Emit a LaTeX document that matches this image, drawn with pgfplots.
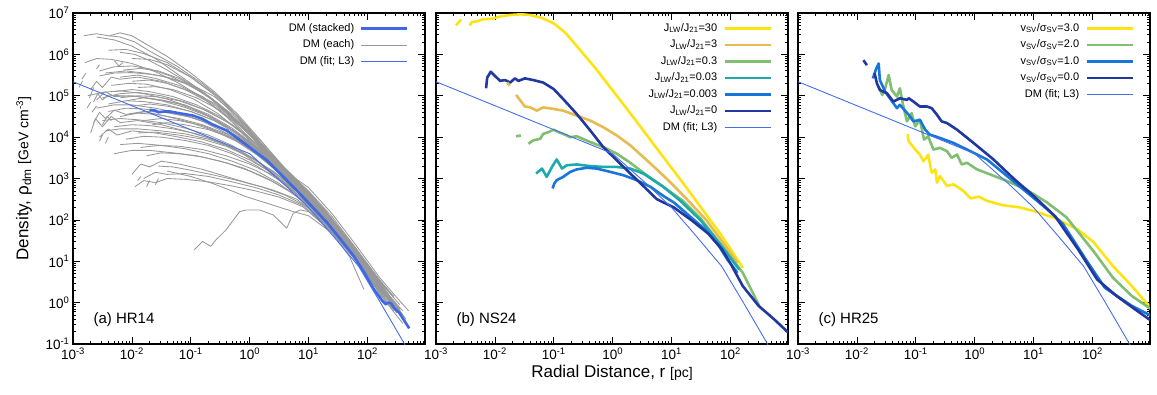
\documentclass[border=0pt]{standalone}
\usepackage{fontspec}
\setmainfont{Liberation Sans}
\usepackage{pgfplots}
\pgfplotsset{compat=1.18}
\definecolor{stk}{RGB}{62,104,228}
\definecolor{fitc}{RGB}{70,110,235}
\definecolor{grayc}{RGB}{152,152,152}
\definecolor{yel}{RGB}{252,228,20}
\definecolor{ora}{RGB}{230,188,80}
\definecolor{grn}{RGB}{128,190,112}
\definecolor{tea}{RGB}{30,170,172}
\definecolor{blu}{RGB}{24,118,218}
\definecolor{nav}{RGB}{32,56,160}
\tikzset{gr/.style={grayc, line width=0.85pt, line join=round}}
\pgfplotsset{table/L/.style={x expr=10^(\thisrowno{0}), y expr=10^(\thisrowno{1}), row sep=\\}}
\begin{document}
\begin{tikzpicture}
\useasboundingbox (0,0) rectangle (1157pt,394pt);
% ================= Panel (a) =================
\begin{axis}[at={(73pt,50pt)}, anchor=south west,
  xmode=log, ymode=log, log basis x=10, log basis y=10,
  xmin=1e-3, xmax=950, ymin=1e-1, ymax=1e7,
  width=352pt, height=331pt, scale only axis,
  xtick={1e-3,1e-2,1e-1,1,10,100},
  ytick={1e-1,1,10,100,1e3,1e4,1e5,1e6,1e7},
  minor xtick={2e-3,3e-3,4e-3,5e-3,6e-3,7e-3,8e-3,9e-3,2e-2,3e-2,4e-2,5e-2,6e-2,7e-2,8e-2,9e-2,0.2,0.3,0.4,0.5,0.6,0.7,0.8,0.9,2,3,4,5,6,7,8,9,20,30,40,50,60,70,80,90,200,300,400,500,600,700,800,900},
  minor ytick={0.2,0.3,0.4,0.5,0.6,0.7,0.8,0.9,2,3,4,5,6,7,8,9,20,30,40,50,60,70,80,90,200,300,400,500,600,700,800,900,2e3,3e3,4e3,5e3,6e3,7e3,8e3,9e3,2e4,3e4,4e4,5e4,6e4,7e4,8e4,9e4,2e5,3e5,4e5,5e5,6e5,7e5,8e5,9e5,2e6,3e6,4e6,5e6,6e6,7e6,8e6,9e6},
  tick align=inside, major tick length=7pt, minor tick length=3.5pt,
  tick style={black, line width=0.7pt},
  axis line style={line width=1.5pt},
  xticklabel={10\textsuperscript{\pgfmathprintnumber[assume math mode=true]{\tick}}},
  yticklabel={10\textsuperscript{\pgfmathprintnumber[assume math mode=true]{\tick}}},
  ticklabel style={font=\fontsize{13.5}{15}\selectfont},
  legend style={at={(1,1)}, anchor=north east, xshift=-16pt, yshift=-8pt, draw=none, fill=none, inner sep=0pt,
   font=\fontsize{11}{12}\selectfont, row sep=2pt, column sep=4pt,
   nodes={inner sep=2pt, text height=8pt, text depth=2.5pt}},
  legend cell align=right, legend plot pos=right,
  legend image code/.code={\draw[#1] (0pt,0pt) -- (46pt,0pt);}]
\addlegendimage{stk, line width=2.6pt}\addlegendentry{DM (stacked)}
\addlegendimage{grayc, line width=0.85pt}\addlegendentry{DM (each)}
\addlegendimage{color=fitc, line width=0.9pt}\addlegendentry{DM (fit; L3)}
% gray individual profiles
\addplot[gr, forget plot] table[L]{-2.82 6.45\\ -2.6 6.5\\ -2.4 6.45\\ -2.2 6.42\\ -1.95 6.3\\ -1.7 6.08\\ -1.24 5.72\\ -0.79 5.28\\ -0.45 4.88\\ -0.05 4.24\\ 0.4 3.52\\ 0.8 2.98\\ 1.0 2.78\\ 1.4 2.15\\ 1.8 1.4\\ 2.2 0.62\\ 2.5 0.12\\ 2.7 -0.2\\};
\addplot[gr, forget plot] table[L]{-2.6 6.42\\ -2.3 6.35\\ -2.0 6.2\\ -1.6 5.9\\ -1.2 5.5\\ -0.8 5.1\\ -0.4 4.6\\ 0.0 4.05\\ 0.4 3.45\\ 0.8 2.92\\ 1.0 2.66\\ 1.4 2.02\\ 1.8 1.25\\ 2.2 0.45\\ 2.6 -0.2\\};
\addplot[gr, forget plot] table[L]{-2.38 6.45\\ -2.2 6.52\\ -2.0 6.45\\ -1.7 6.2\\ -1.4 5.95\\ -1.0 5.55\\ -0.6 5.1\\ -0.2 4.55\\ 0.2 3.9\\ 0.6 3.22\\ 1.0 2.7\\ 1.4 2.08\\ 1.8 1.32\\ 2.2 0.52\\ 2.55 -0.05\\};
\addplot[gr, forget plot] table[L]{-2.4 6.1\\ -2.1 6.12\\ -1.8 6.02\\ -1.4 5.8\\ -1.0 5.45\\ -0.6 5.02\\ -0.2 4.45\\ 0.3 3.65\\ 0.8 2.9\\ 1.0 2.62\\ 1.4 1.98\\ 1.8 1.2\\ 2.2 0.4\\ 2.5 -0.1\\};
\addplot[gr, forget plot] table[L]{-2.0 5.9\\ -1.7 5.88\\ -1.4 5.75\\ -1.0 5.45\\ -0.6 5.05\\ -0.2 4.5\\ 0.2 3.85\\ 0.6 3.2\\ 1.0 2.6\\ 1.4 1.95\\ 1.8 1.15\\ 2.2 0.32\\ 2.6 -0.35\\};
\addplot[gr, forget plot] table[L]{-2.55 5.48\\ -2.3 5.55\\ -2.0 5.56\\ -1.7 5.52\\ -1.4 5.45\\ -1.0 5.28\\ -0.6 4.98\\ -0.2 4.5\\ 0.2 3.9\\ 0.6 3.25\\ 1.0 2.68\\ 1.4 2.02\\ 1.8 1.22\\ 2.2 0.42\\ 2.55 -0.15\\};
\addplot[gr, forget plot] table[L]{-2.45 5.55\\ -2.1 5.6\\ -1.8 5.55\\ -1.5 5.48\\ -1.1 5.3\\ -0.7 5.0\\ -0.3 4.55\\ 0.1 3.98\\ 0.5 3.35\\ 0.9 2.8\\ 1.3 2.2\\ 1.8 1.32\\ 2.2 0.55\\ 2.45 0.15\\};
\addplot[gr, forget plot] table[L]{-2.2 5.45\\ -1.9 5.5\\ -1.6 5.42\\ -1.2 5.25\\ -0.8 4.98\\ -0.4 4.58\\ 0.0 4.05\\ 0.4 3.45\\ 0.8 2.88\\ 1.2 2.25\\ 1.7 1.4\\ 2.1 0.62\\ 2.4 0.05\\};
\addplot[gr, forget plot] table[L]{-2.0 5.35\\ -1.7 5.38\\ -1.4 5.3\\ -1.0 5.1\\ -0.6 4.82\\ -0.2 4.38\\ 0.2 3.8\\ 0.6 3.2\\ 1.0 2.55\\ 1.4 1.88\\ 1.8 1.08\\ 2.2 0.22\\ 2.6 -0.5\\};
\addplot[gr, forget plot] table[L]{-2.7 5.15\\ -2.6 5.35\\ -2.5 5.2\\ -2.35 5.45\\ -2.2 5.4\\ -1.9 5.45\\ -1.5 5.35\\ -1.1 5.15\\ -0.7 4.85\\ -0.3 4.4\\ 0.1 3.85\\ 0.5 3.25\\ 0.9 2.7\\ 1.4 1.95\\ 1.9 1.0\\ 2.3 0.15\\};
\addplot[gr, forget plot] table[L]{-2.15 5.62\\ -1.85 5.66\\ -1.55 5.6\\ -1.2 5.42\\ -0.8 5.1\\ -0.4 4.65\\ 0.0 4.1\\ 0.4 3.5\\ 0.8 2.92\\ 1.2 2.32\\ 1.7 1.5\\ 2.1 0.75\\ 2.45 0.12\\};
\addplot[gr, forget plot] table[L]{-2.5 4.95\\ -2.2 5.05\\ -1.9 5.08\\ -1.5 5.0\\ -1.1 4.85\\ -0.7 4.62\\ -0.3 4.3\\ 0.1 3.85\\ 0.5 3.3\\ 0.9 2.72\\ 1.3 2.08\\ 1.8 1.18\\ 2.2 0.38\\ 2.5 -0.15\\};
\addplot[gr, forget plot] table[L]{-2.3 5.1\\ -2.0 5.15\\ -1.7 5.1\\ -1.3 4.98\\ -0.9 4.78\\ -0.5 4.5\\ -0.1 4.1\\ 0.3 3.6\\ 0.7 3.05\\ 1.1 2.45\\ 1.5 1.8\\ 2.0 0.85\\ 2.35 0.15\\};
\addplot[gr, forget plot] table[L]{-2.1 4.88\\ -1.8 4.95\\ -1.5 4.9\\ -1.1 4.78\\ -0.7 4.55\\ -0.3 4.22\\ 0.1 3.78\\ 0.5 3.25\\ 0.9 2.62\\ 1.3 1.98\\ 1.8 1.1\\ 2.2 0.25\\ 2.45 -0.2\\};
\addplot[gr, forget plot] table[L]{-2.6 4.9\\ -2.45 5.1\\ -2.3 4.98\\ -2.0 5.0\\ -1.6 4.92\\ -1.2 4.8\\ -0.8 4.58\\ -0.4 4.28\\ 0.0 3.88\\ 0.4 3.38\\ 0.8 2.85\\ 1.2 2.25\\ 1.7 1.42\\ 2.1 0.62\\ 2.4 0.1\\};
\addplot[gr, forget plot] table[L]{-1.9 5.2\\ -1.6 5.22\\ -1.3 5.15\\ -0.9 4.95\\ -0.5 4.65\\ -0.1 4.2\\ 0.3 3.68\\ 0.7 3.1\\ 1.1 2.48\\ 1.6 1.65\\ 2.0 0.9\\ 2.3 0.35\\};
\addplot[gr, forget plot] table[L]{-2.4 4.8\\ -2.1 4.88\\ -1.8 4.86\\ -1.4 4.78\\ -1.0 4.62\\ -0.6 4.4\\ -0.2 4.05\\ 0.2 3.6\\ 0.6 3.08\\ 1.0 2.5\\ 1.5 1.72\\ 2.0 0.82\\ 2.35 0.1\\};
\addplot[gr, forget plot] table[L]{-2.4 4.62\\ -2.1 4.7\\ -1.8 4.68\\ -1.4 4.6\\ -1.0 4.48\\ -0.6 4.3\\ -0.2 4.02\\ 0.2 3.62\\ 0.6 3.12\\ 1.0 2.58\\ 1.4 1.95\\ 1.9 1.02\\ 2.3 0.2\\ 2.55 -0.3\\};
\addplot[gr, forget plot] table[L]{-2.2 4.5\\ -1.9 4.58\\ -1.6 4.55\\ -1.2 4.45\\ -0.8 4.3\\ -0.4 4.08\\ 0.0 3.75\\ 0.4 3.3\\ 0.8 2.78\\ 1.2 2.2\\ 1.7 1.38\\ 2.1 0.6\\ 2.4 0.05\\};
\addplot[gr, forget plot] table[L]{-2.0 4.75\\ -1.7 4.8\\ -1.4 4.75\\ -1.0 4.62\\ -0.6 4.4\\ -0.2 4.1\\ 0.2 3.68\\ 0.6 3.15\\ 1.0 2.6\\ 1.5 1.8\\ 2.0 0.9\\ 2.4 0.12\\ 2.65 -0.4\\};
\addplot[gr, forget plot] table[L]{-2.65 4.35\\ -2.55 4.6\\ -2.45 4.45\\ -2.3 4.65\\ -2.1 4.55\\ -1.8 4.62\\ -1.4 4.5\\ -1.0 4.35\\ -0.6 4.15\\ -0.2 3.88\\ 0.2 3.5\\ 0.6 3.02\\ 1.0 2.48\\ 1.5 1.72\\ 2.0 0.82\\ 2.35 0.1\\};
\addplot[gr, forget plot] table[L]{-1.8 4.4\\ -1.5 4.45\\ -1.2 4.4\\ -0.8 4.28\\ -0.4 4.05\\ 0.0 3.72\\ 0.4 3.28\\ 0.8 2.75\\ 1.2 2.15\\ 1.7 1.32\\ 2.1 0.55\\};
\addplot[gr, forget plot] table[L]{-2.5 4.4\\ -2.2 4.45\\ -1.9 4.42\\ -1.5 4.35\\ -1.1 4.22\\ -0.7 4.05\\ -0.3 3.8\\ 0.1 3.45\\ 0.5 3.0\\ 0.9 2.5\\ 1.3 1.9\\ 1.8 1.05\\ 2.2 0.28\\};
\addplot[gr, forget plot] table[L]{-2.55 4.0\\ -2.4 4.2\\ -2.25 4.05\\ -2.0 4.15\\ -1.6 4.1\\ -1.2 4.0\\ -0.8 3.88\\ -0.4 3.7\\ 0.0 3.45\\ 0.4 3.12\\ 0.8 2.68\\ 1.2 2.12\\ 1.7 1.32\\ 2.1 0.6\\ 2.4 0.02\\};
\addplot[gr, forget plot] table[L]{-2.3 4.25\\ -2.0 4.3\\ -1.7 4.28\\ -1.3 4.2\\ -0.9 4.08\\ -0.5 3.88\\ -0.1 3.58\\ 0.3 3.2\\ 0.7 2.76\\ 1.1 2.25\\ 1.6 1.5\\ 2.0 0.78\\ 2.3 0.25\\};
\addplot[gr, forget plot] table[L]{-2.1 3.95\\ -1.8 4.02\\ -1.5 4.0\\ -1.1 3.92\\ -0.7 3.8\\ -0.3 3.6\\ 0.1 3.32\\ 0.5 2.96\\ 0.9 2.5\\ 1.3 1.92\\ 1.8 1.08\\ 2.2 0.32\\};
\addplot[gr, forget plot] table[L]{-2.7 4.1\\ -2.62 4.45\\ -2.5 4.25\\ -2.35 4.5\\ -2.2 4.35\\ -1.9 4.4\\ -1.5 4.3\\ -1.1 4.15\\ -0.7 3.98\\ -0.3 3.75\\ 0.1 3.45\\ 0.5 3.06\\ 0.9 2.6\\ 1.3 2.0\\ 1.8 1.2\\ 2.2 0.42\\ 2.5 -0.12\\};
\addplot[gr, forget plot] table[L]{-1.9 4.1\\ -1.6 4.12\\ -1.2 4.05\\ -0.8 3.95\\ -0.4 3.78\\ 0.0 3.52\\ 0.4 3.18\\ 0.8 2.72\\ 1.2 2.18\\ 1.7 1.38\\ 2.1 0.68\\ 2.45 0.0\\};
\addplot[gr, forget plot] table[L]{-2.2 3.82\\ -1.9 3.85\\ -1.5 3.8\\ -1.1 3.72\\ -0.7 3.6\\ -0.3 3.42\\ 0.1 3.2\\ 0.5 2.88\\ 0.9 2.45\\ 1.3 1.88\\ 1.8 1.05\\ 2.15 0.4\\};
\addplot[gr, forget plot] table[L]{-2.0 3.1\\ -1.85 3.35\\ -1.7 3.28\\ -1.5 3.42\\ -1.2 3.35\\ -0.8 3.22\\ -0.4 3.05\\ 0.0 2.88\\ 0.4 2.72\\ 0.8 2.5\\ 1.2 2.05\\ 1.7 1.3\\ 2.1 0.6\\ 2.4 0.05\\};
\addplot[gr, forget plot] table[L]{-1.8 3.0\\ -1.6 3.15\\ -1.4 3.1\\ -1.1 3.12\\ -0.7 3.05\\ -0.3 2.92\\ 0.1 2.78\\ 0.5 2.6\\ 0.9 2.35\\ 1.3 1.88\\ 1.8 1.08\\ 2.2 0.35\\};
\addplot[gr, forget plot] table[L]{-1.95 2.8\\ -1.8 2.95\\ -1.6 2.9\\ -1.4 3.0\\ -1.1 2.98\\ -0.7 2.92\\ -0.3 2.82\\ 0.1 2.7\\ 0.5 2.55\\ 0.9 2.32\\ 1.3 1.85\\ 1.8 1.02\\ 2.2 0.28\\};
\addplot[gr, forget plot] table[L]{-1.55 3.3\\ -1.3 3.28\\ -1.0 3.2\\ -0.6 3.08\\ -0.2 2.95\\ 0.2 2.8\\ 0.6 2.6\\ 1.0 2.3\\ 1.4 1.75\\ 1.9 0.92\\ 2.3 0.15\\};
\addplot[gr, forget plot] table[L]{-1.4 3.18\\ -1.0 3.05\\ -0.63 2.88\\ -0.3 2.7\\ -0.06 2.56\\ 0.3 2.4\\ 0.74 2.2\\ 1.0 2.1\\ 1.4 1.68\\ 1.9 0.9\\ 2.2 0.38\\};
\addplot[gr, forget plot] table[L]{-0.94 1.28\\ -0.8 1.48\\ -0.66 1.36\\ -0.57 1.52\\ -0.4 1.76\\ -0.17 2.2\\ -0.06 2.24\\ 0.17 2.24\\ 0.4 2.12\\ 0.63 1.8\\ 0.74 2.16\\ 0.86 2.24\\ 1.0 2.2\\ 1.4 1.7\\ 1.7 1.1\\ 1.94 0.32\\};
\addplot[gr, forget plot] table[L]{-2.75 5.0\\ -2.5 5.08\\ -2.2 5.12\\ -1.8 5.05\\ -1.4 4.92\\ -1.0 4.72\\ -0.6 4.45\\ -0.2 4.08\\ 0.2 3.6\\ 0.6 3.05\\ 1.0 2.52\\ 1.4 1.88\\ 1.8 1.1\\ 2.2 0.28\\ 2.5 -0.25\\};
\addplot[gr, forget plot] table[L]{-2.6 4.7\\ -2.3 4.78\\ -2.0 4.78\\ -1.6 4.7\\ -1.2 4.58\\ -0.8 4.38\\ -0.4 4.1\\ 0.0 3.72\\ 0.4 3.25\\ 0.8 2.75\\ 1.2 2.15\\ 1.7 1.32\\ 2.1 0.55\\ 2.4 0.0\\};
\addplot[gr, forget plot] table[L]{-2.45 4.15\\ -2.2 4.2\\ -1.9 4.2\\ -1.5 4.15\\ -1.1 4.08\\ -0.7 3.95\\ -0.3 3.75\\ 0.1 3.45\\ 0.5 3.05\\ 0.9 2.58\\ 1.3 1.98\\ 1.8 1.15\\ 2.2 0.35\\ 2.5 -0.2\\};
\addplot[gr, forget plot] table[L]{-2.3 3.6\\ -2.0 3.68\\ -1.7 3.68\\ -1.3 3.62\\ -0.9 3.55\\ -0.5 3.42\\ -0.1 3.25\\ 0.3 3.0\\ 0.7 2.68\\ 1.1 2.25\\ 1.5 1.68\\ 2.0 0.85\\ 2.3 0.3\\};
\addplot[gr, forget plot] table[L]{-2.2 4.95\\ -1.9 5.0\\ -1.6 4.98\\ -1.2 4.88\\ -0.8 4.68\\ -0.4 4.38\\ 0.0 3.98\\ 0.4 3.45\\ 0.8 2.9\\ 1.2 2.3\\ 1.6 1.62\\ 2.0 0.88\\ 2.35 0.2\\};
\addplot[gr, forget plot] table[L]{-2.05 4.55\\ -1.75 4.62\\ -1.45 4.6\\ -1.05 4.5\\ -0.65 4.32\\ -0.25 4.05\\ 0.15 3.65\\ 0.55 3.15\\ 0.95 2.62\\ 1.35 1.98\\ 1.8 1.18\\ 2.2 0.4\\ 2.55 -0.2\\};
\addplot[gr, forget plot] table[L]{-2.8 5.8\\ -2.6 5.9\\ -2.35 5.88\\ -2.0 5.78\\ -1.6 5.58\\ -1.2 5.3\\ -0.8 4.95\\ -0.4 4.5\\ 0.0 3.95\\ 0.4 3.38\\ 0.8 2.85\\ 1.2 2.25\\ 1.6 1.6\\ 2.0 0.88\\ 2.4 0.1\\ 2.65 -0.4\\};
\addplot[gr, forget plot] table[L]{-2.35 5.25\\ -2.05 5.3\\ -1.75 5.28\\ -1.35 5.15\\ -0.95 4.92\\ -0.55 4.58\\ -0.15 4.12\\ 0.25 3.58\\ 0.65 3.02\\ 1.05 2.48\\ 1.45 1.85\\ 1.9 1.0\\ 2.3 0.2\\};
\addplot[gr, forget plot] table[L]{-1.85 3.75\\ -1.55 3.8\\ -1.2 3.78\\ -0.8 3.7\\ -0.4 3.55\\ 0.0 3.35\\ 0.4 3.08\\ 0.8 2.7\\ 1.2 2.2\\ 1.6 1.55\\ 2.0 0.82\\ 2.3 0.25\\};
\addplot[gr, forget plot] table[L]{-2.65 4.85\\ -2.58 5.05\\ -2.5 4.9\\ -2.4 5.02\\ -2.2 5.0\\ -1.9 4.98\\ -1.5 4.88\\ -1.1 4.72\\ -0.7 4.5\\ -0.3 4.18\\ 0.1 3.75\\ 0.5 3.22\\ 0.9 2.68\\ 1.3 2.05\\ 1.8 1.2\\ 2.2 0.4\\ 2.5 -0.1\\};
\addplot[gr, forget plot] table[L]{-1.65 4.3\\ -1.4 4.35\\ -1.1 4.3\\ -0.7 4.18\\ -0.3 3.98\\ 0.1 3.65\\ 0.5 3.18\\ 0.9 2.68\\ 1.3 2.08\\ 1.75 1.28\\ 2.15 0.5\\};
\addplot[gr, forget plot] table[L]{-2.2 6.05\\ -1.95 6.0\\ -1.7 5.85\\ -1.4 5.62\\ -1.0 5.28\\ -0.6 4.88\\ -0.2 4.35\\ 0.2 3.78\\ 0.6 3.2\\ 1.0 2.65\\ 1.4 2.0\\ 1.8 1.22\\ 2.2 0.42\\ 2.55 -0.2\\};
\addplot[gr, forget plot] table[L]{-1.75 3.55\\ -1.5 3.62\\ -1.2 3.6\\ -0.8 3.52\\ -0.4 3.38\\ 0.0 3.18\\ 0.4 2.92\\ 0.8 2.58\\ 1.2 2.1\\ 1.6 1.48\\ 2.0 0.72\\ 2.3 0.1\\};
\addplot[gr, forget plot] table[L]{-2.55 5.6\\ -2.3 5.7\\ -2.0 5.72\\ -1.7 5.65\\ -1.35 5.48\\ -0.95 5.2\\ -0.55 4.82\\ -0.15 4.3\\ 0.25 3.7\\ 0.65 3.1\\ 1.05 2.55\\ 1.45 1.9\\ 1.85 1.1\\ 2.25 0.28\\ 2.6 -0.35\\};
% short fragments
\addplot[gr, forget plot] table[L]{-2.72 4.95\\ -2.65 5.2\\};
\addplot[gr, forget plot] table[L]{-2.68 4.6\\ -2.6 4.75\\};
\addplot[gr, forget plot] table[L]{-2.5 4.3\\ -2.42 4.5\\ -2.35 4.4\\};
\addplot[gr, forget plot] table[L]{-2.85 5.4\\ -2.78 5.55\\};
\addplot[gr, forget plot] table[L]{-1.75 2.8\\ -1.7 2.95\\};
\addplot[gr, forget plot] table[L]{-1.6 2.85\\ -1.55 3.0\\};
\addplot[gr, forget plot] table[L]{-2.3 5.85\\ -2.22 5.72\\ -2.15 5.8\\};
\addplot[gr, forget plot] table[L]{-2.9 5.2\\ -2.84 5.35\\};
\addplot[gr, forget plot] table[L]{-2.76 4.7\\ -2.7 4.85\\};
\addplot[gr, forget plot] table[L]{-2.55 3.9\\ -2.5 4.05\\};
\addplot[gr, forget plot] table[L]{-2.45 3.85\\ -2.4 4.0\\};
\addplot[gr, forget plot] table[L]{-2.6 5.65\\ -2.55 5.75\\};
\addplot[gr, forget plot] table[L]{-1.9 2.95\\ -1.85 3.05\\};
% stacked profile
\addplot[stk, line width=2.6pt, line join=round, forget plot] table[L]{-1.7 4.66\\ -1.6 4.64\\ -1.55 4.6\\ -1.45 4.62\\ -1.36 4.62\\ -1.2 4.58\\ -0.96 4.52\\ -0.8 4.44\\ -0.65 4.32\\ -0.39 4.16\\ -0.08 3.84\\ 0.29 3.44\\ 0.6 3.0\\ 0.86 2.62\\ 1.1 2.26\\ 1.31 1.94\\ 1.55 1.52\\ 1.77 1.12\\ 1.95 0.72\\ 2.11 0.32\\ 2.25 0.05\\ 2.31 -0.04\\ 2.36 0.0\\ 2.4 -0.02\\ 2.46 -0.14\\ 2.54 -0.24\\ 2.6 -0.38\\ 2.71 -0.62\\};
% fit
\addplot[fitc, line width=0.9pt, forget plot] table[L]{-3 5.34\\ 0 3.6\\ 0.3 3.22\\ 0.6 2.84\\ 1.0 2.3\\ 1.4 1.64\\ 1.85 0.88\\ 2.2 0.05\\ 2.7 -1.17\\};
\end{axis}
% ================= Panel (b) =================
\begin{axis}[at={(436pt,50pt)}, anchor=south west, yticklabels={},
  xmode=log, ymode=log, log basis x=10, log basis y=10,
  xmin=1e-3, xmax=950, ymin=1e-1, ymax=1e7,
  width=352pt, height=331pt, scale only axis,
  xtick={1e-3,1e-2,1e-1,1,10,100},
  ytick={1e-1,1,10,100,1e3,1e4,1e5,1e6,1e7},
  minor xtick={2e-3,3e-3,4e-3,5e-3,6e-3,7e-3,8e-3,9e-3,2e-2,3e-2,4e-2,5e-2,6e-2,7e-2,8e-2,9e-2,0.2,0.3,0.4,0.5,0.6,0.7,0.8,0.9,2,3,4,5,6,7,8,9,20,30,40,50,60,70,80,90,200,300,400,500,600,700,800,900},
  minor ytick={0.2,0.3,0.4,0.5,0.6,0.7,0.8,0.9,2,3,4,5,6,7,8,9,20,30,40,50,60,70,80,90,200,300,400,500,600,700,800,900,2e3,3e3,4e3,5e3,6e3,7e3,8e3,9e3,2e4,3e4,4e4,5e4,6e4,7e4,8e4,9e4,2e5,3e5,4e5,5e5,6e5,7e5,8e5,9e5,2e6,3e6,4e6,5e6,6e6,7e6,8e6,9e6},
  tick align=inside, major tick length=7pt, minor tick length=3.5pt,
  tick style={black, line width=0.7pt},
  axis line style={line width=1.5pt},
  xticklabel={10\textsuperscript{\pgfmathprintnumber[assume math mode=true]{\tick}}},
  ticklabel style={font=\fontsize{13.5}{15}\selectfont},
  legend style={at={(1,1)}, anchor=north east, xshift=-16pt, yshift=-8pt, draw=none, fill=none, inner sep=0pt,
   font=\fontsize{11}{12}\selectfont, row sep=2pt, column sep=4pt,
   nodes={inner sep=2pt, text height=8pt, text depth=2.5pt}},
  legend cell align=right, legend plot pos=right,
  legend image code/.code={\draw[#1] (0pt,0pt) -- (46pt,0pt);}]
\addplot[yel, line width=2.6pt, line join=round] table[L]{-2.43 6.70\\ -2.39 6.78\\ -2.3 6.8\\ -2.2 6.85\\ -2.05 6.86\\ -1.9 6.92\\ -1.75 6.95\\ -1.55 6.97\\ -1.4 6.95\\ -1.2 6.88\\ -1.0 6.75\\ -0.8 6.52\\ -0.55 6.1\\ -0.3 5.68\\ -0.05 5.22\\ 0.18 4.8\\ 0.52 4.16\\ 0.86 3.52\\ 1.2 2.88\\ 1.5 2.3\\ 1.8 1.72\\ 2.0 1.3\\ 2.21 0.84\\};
\addlegendentry{J\textsubscript{LW}/J\textsubscript{21}=30}
\addplot[ora, line width=2.6pt, line join=round] table[L]{-1.64 5.02\\ -1.49 4.74\\ -1.4 4.72\\ -1.29 4.64\\ -1.18 4.72\\ -1.0 4.68\\ -0.84 4.64\\ -0.61 4.52\\ -0.38 4.4\\ -0.16 4.24\\ 0.07 4.04\\ 0.3 3.8\\ 0.52 3.52\\ 0.75 3.22\\ 1.0 2.88\\ 1.26 2.5\\ 1.6 1.98\\ 1.9 1.4\\ 2.12 0.96\\};
\addlegendentry{J\textsubscript{LW}/J\textsubscript{21}=3}
\addplot[grn, line width=2.6pt, line join=round] table[L]{-1.43 3.84\\ -1.35 3.92\\ -1.23 3.96\\ -1.18 4.08\\ -1.09 4.12\\ -1.0 4.18\\ -0.92 4.12\\ -0.84 4.08\\ -0.72 4.0\\ -0.61 4.02\\ -0.38 3.88\\ -0.16 3.76\\ 0.07 3.6\\ 0.3 3.38\\ 0.52 3.14\\ 0.86 2.8\\ 1.2 2.45\\ 1.5 2.02\\ 1.82 1.44\\ 2.21 0.72\\ 2.49 -0.08\\};
\addlegendentry{J\textsubscript{LW}/J\textsubscript{21}=0.3}
\addplot[tea, line width=2.6pt, line join=round] table[L]{-1.3 3.12\\ -1.2 3.24\\ -1.12 3.04\\ -1.03 3.28\\ -0.95 3.46\\ -0.86 3.24\\ -0.78 3.32\\ -0.61 3.34\\ -0.38 3.3\\ -0.16 3.28\\ 0.07 3.28\\ 0.3 3.24\\ 0.52 3.12\\ 0.86 2.8\\ 1.15 2.46\\ 1.5 1.98\\ 1.8 1.45\\ 2.15 0.8\\};
\addlegendentry{J\textsubscript{LW}/J\textsubscript{21}=0.03}
\addplot[blu, line width=2.6pt, line join=round] table[L]{-1.02 2.76\\ -0.99 2.88\\ -0.95 2.96\\ -0.84 3.04\\ -0.72 3.16\\ -0.61 3.22\\ -0.44 3.26\\ -0.27 3.24\\ -0.04 3.16\\ 0.18 3.08\\ 0.41 2.96\\ 0.64 2.8\\ 0.86 2.58\\ 1.04 2.42\\ 1.3 2.1\\ 1.56 1.78\\ 1.8 1.38\\ 1.95 1.04\\ 2.12 0.72\\};
\addlegendentry{J\textsubscript{LW}/J\textsubscript{21}=0.003}
\addplot[nav, line width=2.6pt, line join=round] table[L]{-2.15 5.18\\ -2.13 5.44\\ -2.07 5.58\\ -2.0 5.48\\ -1.91 5.36\\ -1.83 5.38\\ -1.74 5.32\\ -1.66 5.42\\ -1.6 5.36\\ -1.49 5.42\\ -1.35 5.38\\ -1.18 5.32\\ -1.0 5.16\\ -0.84 4.92\\ -0.61 4.56\\ -0.38 4.16\\ -0.16 3.76\\ 0.07 3.44\\ 0.3 3.12\\ 0.52 2.82\\ 0.75 2.5\\ 1.04 2.3\\ 1.35 1.98\\ 1.63 1.66\\ 1.85 1.3\\ 2.0 0.95\\ 2.21 0.4\\ 2.48 -0.08\\ 2.74 -0.4\\ 2.98 -0.72\\};
\addlegendentry{J\textsubscript{LW}/J\textsubscript{21}=0}
\addplot[fitc, line width=0.9pt] table[L]{-3 5.34\\ 0 3.6\\ 0.3 3.22\\ 0.6 2.84\\ 1.0 2.3\\ 1.4 1.64\\ 1.85 0.88\\ 2.2 0.05\\ 2.7 -1.17\\};
\addlegendentry{DM (fit; L3)}
\addplot[yel, line width=2.6pt, forget plot] table[L]{-2.66 6.70\\ -2.6 6.8\\ -2.57 6.84\\};
\addplot[ora, line width=2.6pt, forget plot] table[L]{-1.79 5.32\\ -1.75 5.24\\};
\addplot[grn, line width=2.6pt, forget plot] table[L]{-1.64 4.02\\ -1.56 4.04\\};
\end{axis}
% ================= Panel (c) =================
\begin{axis}[at={(798pt,50pt)}, anchor=south west, yticklabels={},
  xmode=log, ymode=log, log basis x=10, log basis y=10,
  xmin=1e-3, xmax=950, ymin=1e-1, ymax=1e7,
  width=352pt, height=331pt, scale only axis,
  xtick={1e-3,1e-2,1e-1,1,10,100},
  ytick={1e-1,1,10,100,1e3,1e4,1e5,1e6,1e7},
  minor xtick={2e-3,3e-3,4e-3,5e-3,6e-3,7e-3,8e-3,9e-3,2e-2,3e-2,4e-2,5e-2,6e-2,7e-2,8e-2,9e-2,0.2,0.3,0.4,0.5,0.6,0.7,0.8,0.9,2,3,4,5,6,7,8,9,20,30,40,50,60,70,80,90,200,300,400,500,600,700,800,900},
  minor ytick={0.2,0.3,0.4,0.5,0.6,0.7,0.8,0.9,2,3,4,5,6,7,8,9,20,30,40,50,60,70,80,90,200,300,400,500,600,700,800,900,2e3,3e3,4e3,5e3,6e3,7e3,8e3,9e3,2e4,3e4,4e4,5e4,6e4,7e4,8e4,9e4,2e5,3e5,4e5,5e5,6e5,7e5,8e5,9e5,2e6,3e6,4e6,5e6,6e6,7e6,8e6,9e6},
  tick align=inside, major tick length=7pt, minor tick length=3.5pt,
  tick style={black, line width=0.7pt},
  axis line style={line width=1.5pt},
  xticklabel={10\textsuperscript{\pgfmathprintnumber[assume math mode=true]{\tick}}},
  ticklabel style={font=\fontsize{13.5}{15}\selectfont},
  legend style={at={(1,1)}, anchor=north east, xshift=-16pt, yshift=-8pt, draw=none, fill=none, inner sep=0pt,
   font=\fontsize{11}{12}\selectfont, row sep=2pt, column sep=4pt,
   nodes={inner sep=2pt, text height=8pt, text depth=2.5pt}},
  legend cell align=right, legend plot pos=right,
  legend image code/.code={\draw[#1] (0pt,0pt) -- (46pt,0pt);}]
\addplot[yel, line width=2.6pt, line join=round] table[L]{-1.14 4.07\\ -1.12 3.9\\ -1.01 3.7\\ -0.93 3.58\\ -0.87 3.42\\ -0.82 3.5\\ -0.79 3.58\\ -0.73 3.14\\ -0.67 3.22\\ -0.64 2.9\\ -0.59 3.06\\ -0.47 2.82\\ -0.36 2.86\\ -0.19 2.7\\ -0.07 2.52\\ 0.07 2.56\\ 0.21 2.46\\ 0.46 2.36\\ 0.77 2.3\\ 1.04 2.2\\ 1.37 2.04\\ 1.76 1.76\\ 2.02 1.46\\ 2.35 0.88\\ 2.67 0.4\\ 2.96 -0.08\\};
\addlegendentry{v\textsubscript{SV}/σ\textsubscript{SV}=3.0}
\addplot[grn, line width=2.6pt, line join=round] table[L]{-1.63 5.22\\ -1.57 5.02\\ -1.52 5.18\\ -1.46 5.5\\ -1.41 5.14\\ -1.32 4.98\\ -1.27 5.18\\ -1.21 4.74\\ -1.15 4.38\\ -1.07 4.58\\ -1.01 4.26\\ -0.93 4.42\\ -0.86 3.94\\ -0.79 4.02\\ -0.7 3.7\\ -0.59 3.74\\ -0.47 3.66\\ -0.39 3.5\\ -0.3 3.58\\ -0.22 3.34\\ -0.13 3.38\\ 0.04 3.22\\ 0.26 3.1\\ 0.55 2.94\\ 0.89 2.72\\ 1.23 2.42\\ 1.56 2.06\\ 2.02 1.24\\ 2.35 0.6\\ 2.67 0.16\\ 3.0 -0.16\\};
\addlegendentry{v\textsubscript{SV}/σ\textsubscript{SV}=2.0}
\addplot[blu, line width=2.6pt, line join=round] table[L]{-1.73 5.42\\ -1.67 5.66\\ -1.63 5.78\\ -1.61 5.38\\ -1.52 5.1\\ -1.46 4.98\\ -1.32 4.7\\ -1.27 4.78\\ -1.12 4.54\\ -1.04 4.38\\ -0.93 4.42\\ -0.84 4.18\\ -0.76 4.06\\ -0.67 4.02\\ -0.59 3.98\\ -0.36 3.86\\ -0.13 3.7\\ 0.21 3.46\\ 0.55 3.06\\ 0.89 2.66\\ 1.23 2.26\\ 1.5 1.9\\ 1.89 1.04\\ 2.21 0.36\\ 2.67 -0.08\\ 3.0 -0.32\\};
\addlegendentry{v\textsubscript{SV}/σ\textsubscript{SV}=1.0}
\addplot[nav, line width=2.6pt, line join=round] table[L]{-1.7 5.55\\ -1.66 5.3\\ -1.61 5.14\\ -1.49 5.06\\ -1.38 4.86\\ -1.27 4.94\\ -1.15 4.9\\ -1.12 4.94\\ -1.04 4.86\\ -0.93 4.74\\ -0.81 4.74\\ -0.73 4.7\\ -0.64 4.54\\ -0.56 4.38\\ -0.47 4.34\\ -0.3 4.18\\ -0.02 3.86\\ 0.32 3.46\\ 0.66 3.0\\ 1.0 2.58\\ 1.37 2.08\\ 1.76 1.28\\ 2.08 0.56\\ 2.41 0.16\\ 2.8 -0.24\\ 3.0 -0.44\\};
\addlegendentry{v\textsubscript{SV}/σ\textsubscript{SV}=0.0}
\addplot[fitc, line width=0.9pt] table[L]{-3 5.34\\ 0 3.6\\ 0.3 3.22\\ 0.6 2.84\\ 1.0 2.3\\ 1.4 1.64\\ 1.85 0.88\\ 2.2 0.05\\ 2.7 -1.17\\};
\addlegendentry{DM (fit; L3)}
\addplot[nav, line width=2.6pt, forget plot] table[L]{-1.89 5.86\\ -1.83 5.74\\};
\end{axis}
% labels
\node[rotate=90] at (24pt,215.5pt) {\fontsize{17}{20}\selectfont Density, ρ\textsubscript{dm} {\fontsize{14}{16}\selectfont [GeV cm\textsuperscript{-3}]}};
\node at (612pt,21pt) {\fontsize{17}{20}\selectfont Radial Distance, r {\fontsize{14}{16}\selectfont [pc]}};
\node[anchor=west] at (90pt,74pt) {\fontsize{15}{17}\selectfont (a) HR14};
\node[anchor=west] at (453pt,74pt) {\fontsize{15}{17}\selectfont (b) NS24};
\node[anchor=west] at (815pt,74pt) {\fontsize{15}{17}\selectfont (c) HR25};
\end{tikzpicture}
\end{document}
